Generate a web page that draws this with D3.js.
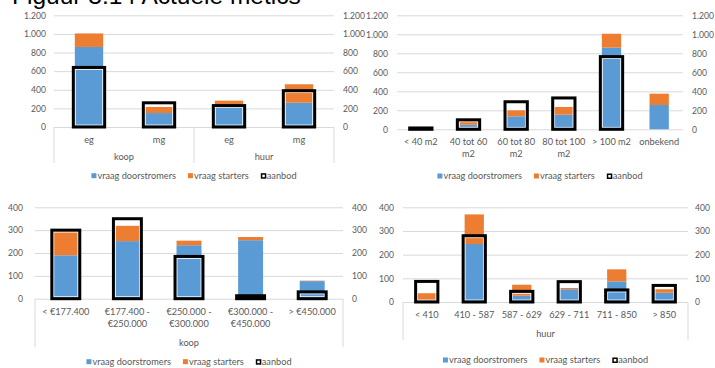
<!DOCTYPE html>
<html><head><meta charset="utf-8">
<script src="https://cdn.jsdelivr.net/npm/d3@7"></script>
<style>body{margin:0;background:#fff}svg{display:block}</style>
</head><body>
<svg id="c" width="715" height="368"></svg>
<script>
// ---------- data ----------
const titleText = "Figuur 3.14 Actuele metics";
const seriesNames = ["vraag doorstromers", "vraag starters", "aanbod"];

const cats1 = ["eg", "mg", "eg", "mg"];
const groups1 = ["koop", "huur"];
const door1 = [860, 150, 212, 261];
const start1 = [145, 65, 71, 198];
const aanbod1 = [640, 260, 230, 390];
const ticks1 = [0, 200, 400, 600, 800, 1000, 1200];

const cats2 = ["< 40 m2", "40 tot 60\nm2", "60 tot 80\nm2", "80 tot 100\nm2", "> 100 m2", "onbekend"];
const door2 = [6, 48, 137, 154, 860, 256];
const start2 = [3, 40, 63, 81, 146, 119];
const aanbod2 = [14, 100, 290, 330, 765, 0];
const ticks2 = [0, 200, 400, 600, 800, 1000, 1200];

const cats3 = ["< €177.400", "€177.400 -\n€250.000", "€250.000 -\n€300.000", "€300.000 -\n€450.000", "> €450.000"];
const groups3 = ["koop"];
const door3 = [190, 252, 234, 256, 77];
const start3 = [103, 67, 20, 14, 2];
const aanbod3 = [300, 350, 185, 13, 30];
const ticks3 = [0, 100, 200, 300, 400];

const cats4 = ["< 410", "410 - 587", "587 - 629", "629 - 711", "711 - 850", "> 850"];
const groups4 = ["huur"];
const door4 = [8, 245, 27, 54, 87, 39];
const start4 = [29, 125, 46, 5, 51, 15];
const aanbod4 = [87, 280, 45, 86, 51, 70];
const ticks4 = [0, 100, 200, 300, 400];

// ---------- style / layout ----------
const BLUE = "#5b9bd5", ORANGE = "#ed7d31", GRID = "#d9d9d9", TXT = "#595959";
const FONT = "Lato, 'Open Sans', sans-serif";
const NUMSIZE = 8.6, LBLSIZE = 9.2;

const nl = d3.formatLocale({decimal: ",", thousands: ".", grouping: [3], currency: ["€", ""]});
const fmt = nl.format(",d");

const svg = d3.select("#c");

svg.append("text").attr("x", 12).attr("y", 4)
  .attr("font-family", "'Liberation Sans', Arial, sans-serif")
  .attr("font-size", 24.5).attr("fill", "#000").text(titleText);

function panel(cfg) {
  const {cats, groups, door, start, aanbod, ticks, L} = cfg;
  const g = svg.append("g");
  const n = cats.length;
  const y = d3.scaleLinear().domain([0, d3.max(ticks)]).range([L.yBot, L.yTop]);
  const x = d3.scaleBand().domain(d3.range(n)).range([L.x0, L.x1])
    .paddingInner(0.595).paddingOuter(0.2975);

  // gridlines
  const grid = g.append("g").attr("transform", `translate(${L.x0},0)`)
    .call(d3.axisRight(y).tickValues(ticks).tickSize(L.x1 - L.x0).tickFormat(""));
  grid.select(".domain").remove();
  grid.selectAll("line").attr("stroke", GRID).attr("stroke-width", 1);

  // left / right labels
  [[d3.axisLeft, L.leftX], [d3.axisRight, L.rightX]].forEach(([ax, px]) => {
    const a = g.append("g").attr("transform", `translate(${px},0)`)
      .call(ax(y).tickValues(ticks).tickSize(0).tickPadding(0).tickFormat(fmt));
    a.select(".domain").remove();
    a.selectAll("text").attr("font-family", FONT).attr("font-size", NUMSIZE).attr("fill", TXT);
  });

  // stacked bars
  const rows = d3.range(n).map(i => ({i, d: door[i], s: start[i]}));
  const stacked = d3.stack().keys(["d", "s"])(rows);
  const colors = [BLUE, ORANGE];
  stacked.forEach((layer, k) => {
    g.append("g").selectAll("rect").data(layer).join("rect")
      .attr("x", d => x(d.data.i))
      .attr("width", x.bandwidth())
      .attr("y", d => y(d[1]))
      .attr("height", d => Math.max(0, y(d[0]) - y(d[1])))
      .attr("fill", colors[k]);
  });

  // aanbod boxes
  const boxData = d3.range(n).filter(i => aanbod[i] > 0).map(i => ({i, v: aanbod[i]}));
  const bw = x.bandwidth() + 3;
  const bg = g.append("g");
  bg.selectAll("rect.i").data(boxData.filter(d => y(0) - y(d.v) > 5)).join("rect").attr("class", "i")
    .attr("x", d => x(d.i) + x.bandwidth() / 2 - bw / 2 + 2)
    .attr("width", bw - 4)
    .attr("y", d => y(d.v) + 2)
    .attr("height", d => y(0) - y(d.v) - 4)
    .attr("fill", "none").attr("stroke", "#fff").attr("stroke-width", 0.8);
  bg.selectAll("rect.o").data(boxData).join("rect").attr("class", "o")
    .attr("x", d => x(d.i) + x.bandwidth() / 2 - bw / 2)
    .attr("width", bw)
    .attr("y", d => y(d.v))
    .attr("height", d => y(0) - y(d.v))
    .attr("fill", "none").attr("stroke", "#000").attr("stroke-width", 3);

  // category labels
  const cl = g.append("g").selectAll("text").data(cats).join("text")
    .attr("x", (d, i) => x(i) + x.bandwidth() / 2)
    .attr("y", L.catY)
    .attr("text-anchor", "middle")
    .attr("font-family", FONT).attr("font-size", LBLSIZE).attr("fill", TXT);
  cl.each(function (d) {
    const t = d3.select(this);
    d.split("\n").forEach((line, j) => {
      t.append("tspan").attr("x", t.attr("x")).attr("dy", j === 0 ? "0.35em" : L.lineH).text(line);
    });
  });

  // groups
  if (groups && groups.length) {
    const per = n / groups.length;
    const step = (L.x1 - L.x0) / n;
    const seps = d3.range(groups.length + 1).map(k => L.x0 + k * per * step);
    g.append("g").selectAll("line").data(seps).join("line")
      .attr("x1", d => d).attr("x2", d => d)
      .attr("y1", L.yBot).attr("y2", L.sepBottom)
      .attr("stroke", GRID).attr("stroke-width", 1);
    g.append("g").selectAll("text").data(groups).join("text")
      .attr("x", (d, k) => L.x0 + (k + 0.5) * per * step)
      .attr("y", L.groupY).attr("dy", "0.35em")
      .attr("text-anchor", "middle")
      .attr("font-family", FONT).attr("font-size", LBLSIZE).attr("fill", TXT)
      .text(d => d);
  }

  // legend
  const lg = g.append("g");
  let cx = 0;
  seriesNames.forEach((name, k) => {
    const it = lg.append("g").attr("transform", `translate(${cx},0)`);
    if (k < 2) {
      it.append("rect").attr("x", 0).attr("y", -2.5).attr("width", 5).attr("height", 5).attr("fill", colors[k]);
    } else {
      it.append("rect").attr("x", 0.75).attr("y", -1.75).attr("width", 4).attr("height", 4)
        .attr("fill", "#fff").attr("stroke", "#000").attr("stroke-width", 1.5);
    }
    const t = it.append("text").attr("x", 6).attr("dy", "0.35em")
      .attr("font-family", FONT).attr("font-size", LBLSIZE).attr("fill", TXT).text(name);
    cx += 6 + t.node().getComputedTextLength() + 12;
  });
  const total = cx - 12;
  lg.attr("transform", `translate(${(L.x0 + L.x1) / 2 - total / 2},${L.legendY})`);
}

panel({cats: cats1, groups: groups1, door: door1, start: start1, aanbod: aanbod1, ticks: ticks1,
  L: {x0: 54, x1: 334, yTop: 15.3, yBot: 127, leftX: 46, rightX: 343, catY: 139.3, lineH: 12.3,
      groupY: 156.7, sepBottom: 163, legendY: 175.7}});
panel({cats: cats2, groups: null, door: door2, start: start2, aanbod: aanbod2, ticks: ticks2,
  L: {x0: 397, x1: 683, yTop: 15.3, yBot: 129.3, leftX: 388, rightX: 692, catY: 141.7, lineH: 12.3,
      legendY: 176}});
panel({cats: cats3, groups: groups3, door: door3, start: start3, aanbod: aanbod3, ticks: ticks3,
  L: {x0: 35, x1: 343, yTop: 207.3, yBot: 298.7, leftX: 23, rightX: 352, catY: 311.7, lineH: 12.3,
      groupY: 342.7, sepBottom: 347, legendY: 361.7}});
panel({cats: cats4, groups: groups4, door: door4, start: start4, aanbod: aanbod4, ticks: ticks4,
  L: {x0: 403, x1: 688, yTop: 207.3, yBot: 302, leftX: 394, rightX: 695, catY: 315, lineH: 12.3,
      groupY: 334, sepBottom: 340, legendY: 360}});
</script>
</body></html>
